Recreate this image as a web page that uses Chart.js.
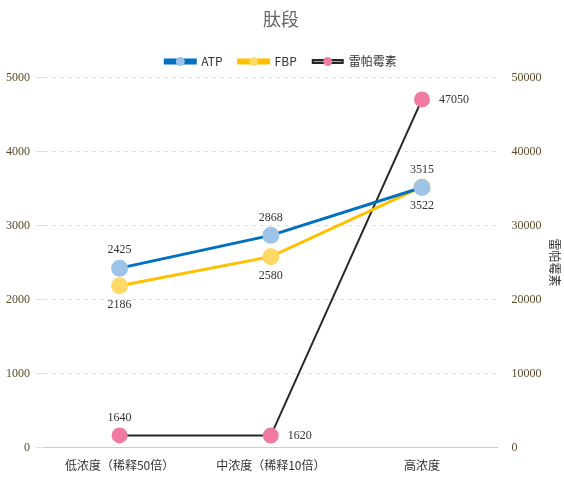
<!DOCTYPE html>
<html>
<head>
<meta charset="utf-8">
<script src="https://cdn.jsdelivr.net/npm/chart.js"></script>
<style>
  body { margin: 0; background: #fff; }
  #wrap { width: 564px; height: 490px; }
</style>
</head>
<body>
<div id="wrap"><canvas id="c"></canvas></div>
<script>
var categories = ['低浓度（稀释50倍）', '中浓度（稀释10倍）', '高浓度'];
var atpValues = [2425, 2868, 3515];
var fbpValues = [2186, 2580, 3522];
var rapaValues = [1640, 1620, 47050];
var leftTicks = [0, 1000, 2000, 3000, 4000, 5000];
var rightTicks = [0, 10000, 20000, 30000, 40000, 50000];

// where each value label goes: 'top', 'bottom', 'right'
var labelPos = [
    ['top', 'top', 'top'],
    ['bottom', 'bottom', 'bottom'],
    ['top', 'right', 'right']
];

var serif = '"Liberation Serif", "Noto Sans CJK SC", serif';

var valueLabels = {
    id: 'valueLabels',
    afterDatasetsDraw: function(chart) {
        var ctx = chart.ctx;
        ctx.save();
        ctx.font = '12px ' + serif;
        ctx.fillStyle = '#333';
        chart.data.datasets.forEach(function(ds, di) {
            chart.getDatasetMeta(di).data.forEach(function(pt, i) {
                var pos = labelPos[di][i];
                var txt = String(ds.data[i]);
                if (pos === 'top') {
                    ctx.textAlign = 'center'; ctx.textBaseline = 'bottom';
                    ctx.fillText(txt, pt.x, pt.y - 12);
                } else if (pos === 'bottom') {
                    ctx.textAlign = 'center'; ctx.textBaseline = 'top';
                    ctx.fillText(txt, pt.x, pt.y + 13);
                } else {
                    ctx.textAlign = 'left'; ctx.textBaseline = 'middle';
                    ctx.fillText(txt, pt.x + 17, pt.y);
                }
            });
        });
        ctx.restore();
    }
};

new Chart(document.getElementById('c'), {
    type: 'line',
    data: {
        labels: categories,
        datasets: [
            { label: 'ATP', data: atpValues, yAxisID: 'y', borderColor: '#0070c0', backgroundColor: '#9dc3e6',
              pointBackgroundColor: '#9dc3e6', pointBorderColor: '#9dc3e6', borderWidth: 3, pointRadius: 7, pointHoverRadius: 7 },
            { label: 'FBP', data: fbpValues, yAxisID: 'y', borderColor: '#ffc000', backgroundColor: '#ffd966',
              pointBackgroundColor: '#ffd966', pointBorderColor: '#ffd966', borderWidth: 3, pointRadius: 7, pointHoverRadius: 7 },
            { label: '雷帕霉素', data: rapaValues, yAxisID: 'y1', borderColor: '#262626', backgroundColor: '#f07ba0',
              pointBackgroundColor: '#f07ba0', pointBorderColor: '#f07ba0', borderWidth: 2, pointRadius: 7, pointHoverRadius: 7 }
        ]
    },
    options: {
        responsive: true,
        maintainAspectRatio: false,
        animation: false,
        layout: { padding: { left: 0, right: 2, top: 2, bottom: 14 } },
        scales: {
            x: {
                offset: true,
                grid: { display: false },
                border: { color: '#ccc' },
                ticks: { color: '#333', font: { size: 12, family: '"Noto Sans CJK SC", sans-serif' } }
            },
            y: {
                min: 0, max: 5000,
                afterBuildTicks: function(axis) { axis.ticks = leftTicks.map(function(v) { return { value: v }; }); },
                grid: { color: '#e0e0e0' },
                border: { display: false, dash: [4, 4] },
                ticks: { color: '#5a4a2a', padding: 6, callback: function(v) { return String(v); }, font: { size: 12, family: serif } }
            },
            y1: {
                position: 'right',
                min: 0, max: 50000,
                afterBuildTicks: function(axis) { axis.ticks = rightTicks.map(function(v) { return { value: v }; }); },
                grid: { display: false },
                border: { display: false },
                ticks: { color: '#5a4a2a', padding: 6, callback: function(v) { return String(v); }, font: { size: 12, family: serif } },
                title: { display: true, text: '雷帕霉素', color: '#333', padding: 0, font: { size: 12, family: '"Noto Sans CJK SC", sans-serif' } }
            }
        },
        plugins: {
            title: { display: true, text: '肽段', color: '#666', font: { size: 18, weight: 'normal', family: '"Noto Sans CJK SC", serif' }, padding: { top: 6, bottom: 10 } },
            legend: {
                position: 'top',
                labels: { color: '#333', usePointStyle: false, boxWidth: 30, boxHeight: 3, padding: 16, font: { size: 12, family: '"Noto Sans CJK SC", sans-serif' } }
            },
            tooltip: { enabled: false }
        }
    },
    plugins: [valueLabels, {
        id: 'legendDots',
        afterDraw: function(chart) {
            var lg = chart.legend, ctx = chart.ctx;
            if (!lg || !lg.legendHitBoxes) return;
            lg.legendHitBoxes.forEach(function(b, i) {
                ctx.save();
                ctx.fillStyle = chart.data.datasets[i].pointBackgroundColor;
                ctx.beginPath();
                ctx.arc(b.left + 15, b.top + b.height / 2, 4.5, 0, 2 * Math.PI);
                ctx.fill();
                ctx.restore();
            });
        }
    }]
});
</script>
</body>
</html>
